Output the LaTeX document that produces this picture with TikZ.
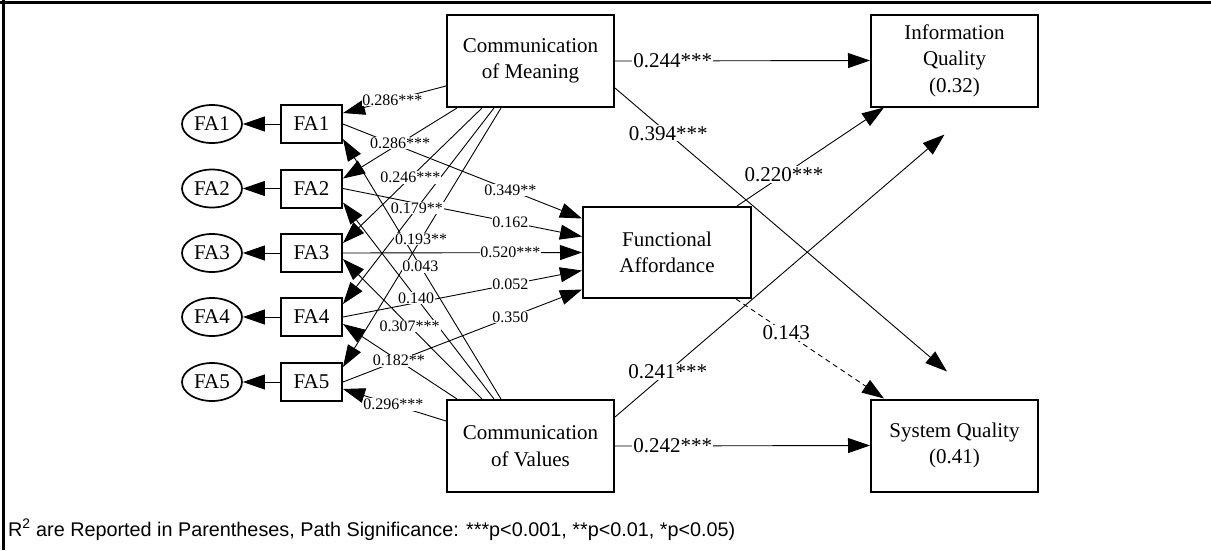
\documentclass[tikz,border=0pt]{standalone}
\usepackage{fontspec}
\setmainfont{Liberation Serif}
\newfontfamily\notefont{Liberation Sans}
\usetikzlibrary{arrows.meta,shapes.geometric}
\begin{document}
\begin{tikzpicture}[x=1pt,y=-1pt,
  box/.style={draw,line width=2pt,rectangle,inner sep=0pt,align=center,
    font=\fontsize{21}{26.5}\selectfont},
  bigbox/.style={box,minimum width=167pt,minimum height=92pt},
  ind/.style={box,minimum width=61pt,minimum height=38pt},
  lat/.style={draw,ellipse,line width=1.7pt,inner sep=0pt,
    minimum width=60pt,minimum height=38pt,font=\fontsize{21}{24}\selectfont},
  conn/.style={line width=0.9pt,-{Triangle[length=22pt,width=15pt]}},
  weak/.style={conn,dash pattern=on 5pt off 4pt},
  lblS/.style={fill=white,inner sep=0.8pt,font=\fontsize{16}{18}\selectfont},
  lblM/.style={fill=white,inner sep=1pt,font=\fontsize{21}{24}\selectfont},
  frame/.style={line width=3pt}
]
\useasboundingbox (0,0) rectangle (1211,550);

% open frame (top and left edges)
\draw[frame] (0,2) -- (1211,2);
\draw[frame] (3,0) -- (3,550);

% constructs
\node[bigbox] (com) at (530.5,61)  {Communication\\of Meaning};
\node[bigbox] (cov) at (530.5,446) {Communication\\of Values};
\node[bigbox, minimum width=168pt, minimum height=91pt] (fa) at (667,252.5) {Functional\\Affordance};
\node[bigbox] (iq)  at (954.5,60.5) {Information\\Quality\\(0.32)};
\node[bigbox] (sq)  at (954.5,445.5) {System Quality\\(0.41)};

% functional affordance items and their latent counterparts
\foreach \i/\y in {1/124,2/188.5,3/253,4/317,5/382}{
  \node[ind] (b\i) at (311.5,\y) {FA\i};
  \node[lat] (e\i) at (212,\y) {FA\i};
  \draw[conn] (b\i.west) -- (e\i.east);
}

% ---- connectors ----
% communication of meaning -> items
\draw[conn] ([yshift=-25pt]com.west)       -- ([yshift=11pt]b1.east);
\draw[conn] ([xshift=11pt]com.south west)  -- ([yshift=10pt]b2.east);
\draw[conn] ([xshift=36pt]com.south west)  -- ([yshift=10pt]b3.east);
\draw[conn] ([xshift=48pt]com.south west)  -- ([yshift=13pt]b4.east);
\draw[conn] ([xshift=55pt]com.south west)  -- ([yshift=15pt]b5.east);
% communication of values -> items
\draw[conn] ([xshift=55pt]cov.north west)  -- ([yshift=-15pt]b1.east);
\draw[conn] ([xshift=48pt]cov.north west)  -- ([yshift=-14pt]b2.east);
\draw[conn] ([xshift=36pt]cov.north west)  -- ([yshift=-6pt]b3.east);
\draw[conn] ([xshift=11pt]cov.north west)  -- ([yshift=-7pt]b4.east);
\draw[conn] ([yshift=25pt]cov.west)        -- ([yshift=-7pt]b5.east);
% items -> functional affordance
\draw[conn] (b1.east) -- ([yshift=34pt]fa.west);
\draw[conn] (b2.east) -- ([yshift=16pt]fa.west);
\draw[conn] (b3.east) -- (fa.west);
\draw[conn] (b4.east) -- ([yshift=-18pt]fa.west);
\draw[conn] (b5.east) -- ([yshift=-37pt]fa.west);
% outcomes
\draw[conn] (com.east) -- (iq.west);
\draw[conn] ([yshift=-27pt]com.east) -- ([xshift=-7.5pt,yshift=27pt]sq.north);
\draw[conn] ([xshift=-15pt]fa.north east) -- ([xshift=14pt]iq.south west);
\draw[conn] ([yshift=-18pt]cov.north east) -- ([xshift=-10pt,yshift=-27pt]iq.south);
\draw[conn] (cov.east) -- (sq.west);
\draw[weak] ([xshift=-16pt]fa.south east) -- ([xshift=14pt]sq.north west);

% ---- path coefficients (placed over the lines) ----
\path ([yshift=-25pt]com.west)      -- ([yshift=11pt]b1.east)  node[lblS,pos=0.52] {0.286***};
\path ([xshift=11pt]com.south west) -- ([yshift=10pt]b2.east)  node[lblS,pos=0.50] {0.286***};
\path ([xshift=36pt]com.south west) -- ([yshift=10pt]b3.east)  node[lblS,pos=0.515] {0.246***};
\path ([xshift=48pt]com.south west) -- ([yshift=13pt]b4.east)  node[lblS,pos=0.51] {0.179**};
\path ([xshift=55pt]com.south west) -- ([yshift=15pt]b5.east)  node[lblS,pos=0.505] {0.193**};
\path ([xshift=55pt]cov.north west) -- ([yshift=-15pt]b1.east) node[lblS,pos=0.51] {0.043};
\path ([xshift=48pt]cov.north west) -- ([yshift=-14pt]b2.east) node[lblS,pos=0.515] {0.140};
\path ([xshift=36pt]cov.north west) -- ([yshift=-6pt]b3.east)  node[lblS,pos=0.52] {0.307***};
\path ([xshift=11pt]cov.north west) -- ([yshift=-7pt]b4.east)  node[lblS,pos=0.51] {0.182**};
\path ([yshift=25pt]cov.west)       -- ([yshift=-7pt]b5.east)  node[lblS,pos=0.51] {0.296***};

\path (b1.east) -- ([yshift=34pt]fa.west)  node[lblS,pos=0.70] {0.349**};
\path (b2.east) -- ([yshift=16pt]fa.west)  node[lblS,pos=0.70] {0.162};
\path (b3.east) -- (fa.west)               node[lblS,pos=0.70] {0.520***};
\path (b4.east) -- ([yshift=-18pt]fa.west) node[lblS,pos=0.70] {0.052};
\path (b5.east) -- ([yshift=-37pt]fa.west) node[lblS,pos=0.70] {0.350};

\path (com.east) -- (iq.west) node[lblM,pos=0.226] {0.244***};
\path ([yshift=-27pt]com.east) -- ([xshift=-7.5pt,yshift=27pt]sq.north) node[lblM,pos=0.16] {0.394***};
\path ([xshift=-15pt]fa.north east) -- ([xshift=14pt]iq.south west) node[lblM,pos=0.32] {0.220***};
\path ([yshift=-18pt]cov.north east) -- ([xshift=-10pt,yshift=-27pt]iq.south) node[lblM,pos=0.16] {0.241***};
\path (cov.east) -- (sq.west) node[lblM,pos=0.226] {0.242***};
\path ([xshift=-16pt]fa.south east) -- ([xshift=14pt]sq.north west) node[lblM,pos=0.34] {0.143};

% note
\node[anchor=base west,inner sep=0pt,font=\notefont\fontsize{19.8}{23}\selectfont] (note) at (8,536)
  {R\textsuperscript{2} are Reported in Parentheses, Path Significance: ***p<0.001, **p<0.01, *p<0.05)};
\end{tikzpicture}
\end{document}
